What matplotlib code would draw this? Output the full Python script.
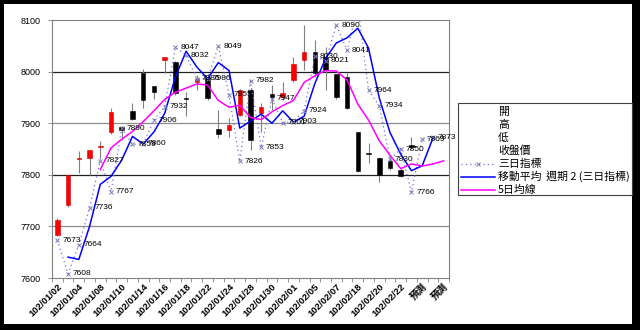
import numpy as np
import pandas as pd
import matplotlib as mpl
mpl.use('Agg')
import matplotlib.pyplot as plt
from matplotlib.patches import Rectangle
from matplotlib.lines import Line2D

plt.rcParams['font.family'] = ['Noto Sans CJK TC', 'DejaVu Sans']

# ---------- data ----------
dates = ['102/01/02', '102/01/04', '102/01/08', '102/01/10', '102/01/14',
         '102/01/16', '102/01/18', '102/01/22', '102/01/24', '102/01/28',
         '102/01/30', '102/02/01', '102/02/05', '102/02/07', '102/02/18',
         '102/02/20', '102/02/22', '預測', '預測']

opens = [7683, 7742, 7831, 7833, 7853, 7882, 7893, 7923, 7997, 7972,
         8022, 8019, 7948, 7980, 7989, 7889, 7887, 7916, 7964, 7920,
         7956, 7950, 7984, 8022, 8038, 8028, 7995, 7990, 7883, 7843,
         7833, 7827, 7809, 7858]
highs = [7717, 7800, 7846, 7849, 7865, 7929, 7894, 7939, 8005, 7972,
         8029, 8020, 7960, 7993, 7990, 7926, 7910, 7967, 7968, 7939,
         7974, 7980, 8028, 8090, 8061, 8048, 7996, 7997, 7883, 7862,
         7835, 7835, 7813, 7874]
lows = [7681, 7737, 7803, 7800, 7830, 7880, 7868, 7906, 7929, 7947,
        7997, 7955, 7914, 7964, 7945, 7871, 7873, 7914, 7848, 7883,
        7926, 7945, 7980, 8003, 7989, 7964, 7947, 7927, 7806, 7823,
        7786, 7810, 7795, 7850]
closes = [7712, 7800, 7833, 7848, 7856, 7921, 7886, 7908, 7945, 7961,
          8028, 7959, 7947, 7986, 7948, 7879, 7896, 7964, 7867, 7931,
          7951, 7958, 8015, 8038, 7997, 8003, 7951, 7929, 7807, 7841,
          7800, 7813, 7798, 7854]

# 三日指標 (the 29th point is above the axis max)
tri = [7673, 7608, 7664, 7736, 7827, 7767, 7890, 7859, 7860, 7906,
       7932, 8047, 8032, 7986, 7986, 8049, 7955, 7826, 7982, 7853,
       7947, 7901, 7903, 7924, 8030, 8021, 8090, 8041, 8127, 7964,
       7934, 7830, 7850, 7766, 7869, 7873]

ma5 = [np.nan] * 4 + [7810, 7852, 7869, 7884, 7903, 7924, 7946, 7960, 7968,
                      7976, 7974, 7944, 7931, 7935, 7911, 7907, 7922, 7934,
                      7944, 7979, 7992, 8002, 8001, 7984, 7937, 7906, 7866,
                      7838, 7812, 7821, 7817, 7821, 7827]

legend_labels = ['開', '高', '低', '收盤價', '三日指標',
                 '移動平均  週期 2 (三日指標)', '5日均線']

n_cat = 37
x = np.arange(n_cat)

TRI_COLOR = '#7070e0'
TRI_MARK = '#7a7ab8'
MA2_COLOR = '#0000ff'
MA5_COLOR = '#ff00ff'

# ---------- figure ----------
W, H = 640, 330
fig = plt.figure(figsize=(W / 100, H / 100), dpi=100, facecolor='black')


def fx(px):
    return px / W


def fy(py):
    return 1 - py / H


fig.patches.append(Rectangle((fx(4), fy(324)), fx(628), 320 / H,
                             transform=fig.transFigure, facecolor='white',
                             edgecolor='none', zorder=-5))

ax = fig.add_axes([fx(52), fy(278), fx(397), 258 / H])
ax.set_facecolor('white')

# gridlines
for lvl, col in zip([7700, 7800, 7900, 8000], ['#8c8c8c', '#202020', '#8c8c8c', '#202020']):
    ax.axhline(lvl, color=col, lw=0.9, zorder=1)

# candles
o = np.array(opens, float)
h = np.array(highs, float)
l = np.array(lows, float)
c = np.array(closes, float)
xc = np.arange(len(o))
up = c >= o
ax.vlines(xc, l, h, color='#808080', lw=0.8, zorder=2)
body_lo = np.minimum(o, c)
body_h = np.maximum(np.abs(c - o), 1.5)
ax.bar(xc[up], body_h[up], bottom=body_lo[up], width=0.42,
       color='#ff0000', edgecolor='#d00000', lw=0.4, zorder=3)
ax.bar(xc[~up], body_h[~up], bottom=body_lo[~up], width=0.42,
       color='black', edgecolor='black', lw=0.4, zorder=3)

# 三日指標
tri_s = pd.Series(tri, dtype=float)
xt = np.arange(len(tri))
ax.plot(xt, tri_s, color=TRI_COLOR, lw=0.9, ls=(0, (1, 2.5)), zorder=4)
ax.plot(xt, tri_s, ls='none', marker='x', ms=3.5, mew=0.7, color=TRI_MARK, zorder=5)
for xi, v in zip(xt, tri):
    if 7600 <= v <= 8100:
        ax.text(xi + 0.45, v, str(v), fontsize=6, va='center', ha='left',
                family='Liberation Sans', color='black', zorder=6)

# 移動平均 週期 2
ma2 = tri_s.rolling(2).mean()
ax.plot(xt, ma2, color=MA2_COLOR, lw=1.1, zorder=4)

# 5日均線
ax.plot(x[:len(ma5)], ma5, color=MA5_COLOR, lw=1.1, zorder=4)

ax.set_xlim(-0.5, n_cat - 0.5)
ax.set_ylim(7600, 8100)
ax.set_yticks([7600, 7700, 7800, 7900, 8000, 8100])
ax.set_yticklabels(['7600', '7700', '7800', '7900', '8000', '8100'],
                   fontsize=6.5, family='Liberation Sans')
ax.set_xticks(np.arange(0, n_cat, 2))
ax.set_xticklabels(dates, rotation=45, ha='right', va='top', rotation_mode='anchor',
                   fontsize=6.8, fontweight='bold', family=['Liberation Sans', 'Noto Sans CJK TC'])
ax.set_xticks(np.arange(n_cat + 1) - 0.5, minor=True)
ax.tick_params(axis='x', which='major', length=0, pad=3)
ax.tick_params(axis='x', which='minor', length=3, color='#808080', width=0.6)
ax.tick_params(axis='y', length=3, color='#808080', width=0.6, pad=5)
for s in ax.spines.values():
    s.set_color('#808080')
    s.set_linewidth(0.8)

# legend box, laid out row by row
fig.patches.append(Rectangle((fx(458), fy(195)), fx(174), 92 / H,
                             transform=fig.transFigure, facecolor='white',
                             edgecolor='#404040', lw=0.8, zorder=5))
handle_styles = [None, None, None, None,
                 dict(color=TRI_COLOR, ls=(0, (1, 2.5)), lw=0.9),
                 dict(color=MA2_COLOR, lw=1.1),
                 dict(color=MA5_COLOR, lw=1.1)]
for i, (lab, st) in enumerate(zip(legend_labels, handle_styles)):
    ry = 111.7 + 13 * i
    fig.text(fx(498), fy(ry), lab, fontsize=7.8, va='center', ha='left', zorder=6)
    if st is not None:
        fig.add_artist(Line2D([fx(461), fx(495)], [fy(ry), fy(ry)],
                              transform=fig.transFigure, zorder=6, **st))
    if i == 4:
        fig.add_artist(Line2D([fx(478)], [fy(ry)], transform=fig.transFigure,
                              ls='none', marker='x', ms=3.5, mew=0.7,
                              color=TRI_MARK, zorder=7))

fig.savefig('out.png', dpi=100, facecolor='black')
